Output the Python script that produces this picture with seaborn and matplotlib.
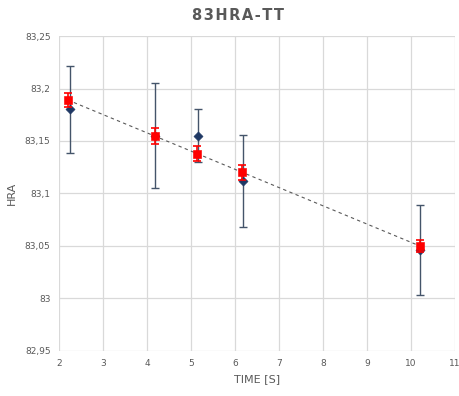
import numpy as np
import pandas as pd
import matplotlib
matplotlib.use("Agg")
import matplotlib.pyplot as plt
import matplotlib.ticker as mticker
import seaborn as sns

# measured points (blue) with wide spread
time_meas = [2.25, 4.18, 5.16, 6.18, 10.2]
hra_meas = [83.180, 83.155, 83.155, 83.112, 83.046]
err_meas = [0.041, 0.050, 0.025, 0.044, 0.043]

# averaged points (red) with narrow spread
time_avg = [2.2, 4.18, 5.13, 6.17, 10.2]
hra_avg = [83.189, 83.155, 83.138, 83.120, 83.050]
err_avg = [0.007, 0.0075, 0.007, 0.007, 0.006]

x_ticks = list(range(2, 12))
y_ticks = [82.95, 83.0, 83.05, 83.1, 83.15, 83.2, 83.25]
title = "83HRA-TT"

sns.set_theme(style="whitegrid")
plt.rcParams['font.family'] = ['DejaVu Sans']

df_meas = pd.DataFrame({"time": time_meas, "hra": hra_meas, "err": err_meas})
df_avg = pd.DataFrame({"time": time_avg, "hra": hra_avg, "err": err_avg})

fig = plt.figure(figsize=(4.6, 3.96), dpi=100)
ax = fig.add_axes([0.128, 0.114, 0.861, 0.795])

# linear trendline through averaged points
k, b = np.polyfit(df_avg["time"], df_avg["hra"], 1)
xt = np.array([df_avg["time"].min(), df_avg["time"].max()])
sns.lineplot(x=xt, y=k * xt + b, ax=ax, color="#595959", linestyle=(0, (3, 3)),
             linewidth=0.8, zorder=2)

ax.errorbar(df_meas["time"], df_meas["hra"], yerr=df_meas["err"], fmt="none",
            ecolor="#44546A", elinewidth=1.0, capsize=3, capthick=1.0, zorder=3)
sns.scatterplot(data=df_meas, x="time", y="hra", ax=ax, marker="D", s=22,
                color="#1F3864", edgecolor="#1F3864", zorder=4)

ax.errorbar(df_avg["time"], df_avg["hra"], yerr=df_avg["err"], fmt="none",
            ecolor="#FF0000", elinewidth=1.2, capsize=3, capthick=1.2, zorder=5)
sns.scatterplot(data=df_avg, x="time", y="hra", ax=ax, marker="s", s=30,
                color="#FF0000", edgecolor="#FF0000", zorder=6)

ax.set_xlim(2, 11)
ax.set_ylim(82.95, 83.25)
ax.set_xticks(x_ticks)
ax.set_yticks(y_ticks)
ax.yaxis.set_major_formatter(mticker.FuncFormatter(
    lambda v, p: f"{v:.2f}".rstrip("0").rstrip(".").replace(".", ",")))

ax.grid(True, color="#D9D9D9", linewidth=0.9)
for s in ax.spines.values():
    s.set_visible(False)
ax.tick_params(axis="both", labelsize=6.5, colors="#595959", length=0, pad=6)

ax.set_xlabel("TIME [S]", fontsize=8, color="#595959", labelpad=4)
ax.set_ylabel("HRA", fontsize=8, color="#595959", labelpad=6)
fig.text(0.518, 0.962, "\u200a".join(title), ha="center", va="center",
         fontsize=10.5, fontweight="bold", color="#595959")

fig.savefig("out.png", dpi=100)
